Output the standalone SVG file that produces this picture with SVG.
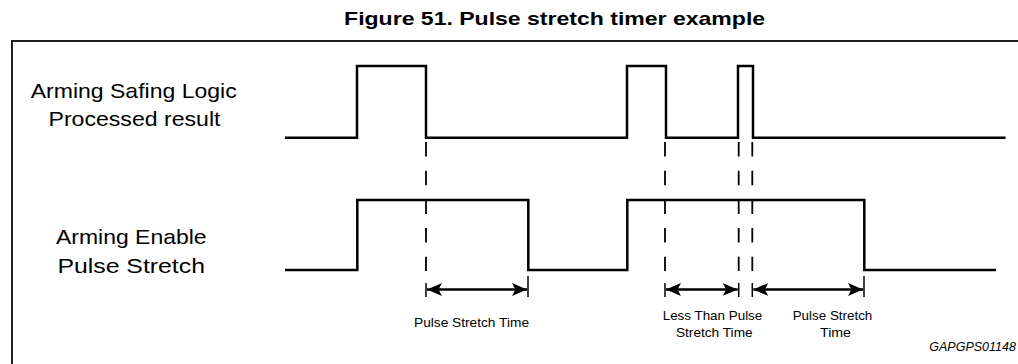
<svg xmlns="http://www.w3.org/2000/svg" width="1018" height="364" viewBox="0 0 1018 364">
<style>
.sig{fill:none;stroke:#000;stroke-width:2.5;stroke-linejoin:miter}
.frame{fill:none;stroke:#231f20;stroke-width:2}
.dash{fill:none;stroke:#000;stroke-width:1.8;stroke-dasharray:14.5 14.2}
.tick{fill:none;stroke:#000;stroke-width:1.5}
.arr{fill:none;stroke:#000;stroke-width:2.6;marker-start:url(#ah);marker-end:url(#ah)}
.lbl{font-family:"Liberation Sans",Arial,sans-serif;font-size:21px;fill:#000;text-anchor:middle}
.sm{font-family:"Liberation Sans",Arial,sans-serif;font-size:13.5px;fill:#000;text-anchor:middle}
.title{font-family:"Liberation Sans",Arial,sans-serif;font-size:19px;font-weight:bold;fill:#000;text-anchor:middle}
.ref{font-family:"Liberation Sans",Arial,sans-serif;font-size:12px;font-style:italic;fill:#000;text-anchor:middle}
</style>
<defs>
<marker id="ah" markerUnits="userSpaceOnUse" markerWidth="16" markerHeight="14" viewBox="0 -7 16 14" refX="15" refY="0" orient="auto-start-reverse">
<path d="M0,-6.5 L15,0 L0,6.5 L3.5,0 Z" fill="#000"/>
</marker>
</defs>
<rect width="1018" height="364" fill="#fff"/>
<text id="title" class="title" x="554.6" y="25" textLength="421" lengthAdjust="spacingAndGlyphs">Figure 51. Pulse stretch timer example</text>
<path class="frame" d="M12,364 V41 H1018"/>
<g id="label-safing">
<text class="lbl" x="133.7" y="98.3" textLength="206" lengthAdjust="spacingAndGlyphs">Arming Safing Logic</text>
<text class="lbl" x="134.5" y="126" textLength="172" lengthAdjust="spacingAndGlyphs">Processed result</text>
</g>
<g id="label-enable">
<text class="lbl" x="131.3" y="244.3" textLength="150.5" lengthAdjust="spacingAndGlyphs">Arming Enable</text>
<text class="lbl" x="131.2" y="272.7" textLength="147.5" lengthAdjust="spacingAndGlyphs">Pulse Stretch</text>
</g>
<g id="signal-safing">
<path class="sig" d="M285,137.7 H357 V66 H426 V137.7 H627 V66 H666 V137.7 H738 V66 H753 V137.7 H1005.5"/>
</g>
<g id="signal-enable">
<path class="sig" d="M285,270 H357.3 V200 H528.3 V270 H627.3 V200 H864.3 V270 H996"/>
</g>
<g id="connectors">
<line class="dash" x1="426" y1="142" x2="426" y2="271"/>
<line class="dash" x1="665" y1="142" x2="665" y2="271"/>
<line class="dash" x1="738.7" y1="142" x2="738.7" y2="271"/>
<line class="dash" x1="752.3" y1="142" x2="752.3" y2="271"/>
<line class="tick" x1="426" y1="283" x2="426" y2="297"/>
<line class="tick" x1="528" y1="276" x2="528" y2="297"/>
<line class="tick" x1="665" y1="283" x2="665" y2="297"/>
<line class="tick" x1="738.7" y1="283" x2="738.7" y2="297"/>
<line class="tick" x1="752.3" y1="283" x2="752.3" y2="297"/>
<line class="tick" x1="864" y1="276" x2="864" y2="297"/>
<line class="arr" x1="427" y1="289.5" x2="527" y2="289.5"/>
<line class="arr" x1="666" y1="289.5" x2="737.7" y2="289.5"/>
<line class="arr" x1="753.3" y1="289.5" x2="863" y2="289.5"/>
</g>
<g id="label-time1">
<text class="sm" x="471.5" y="326.7" textLength="115" lengthAdjust="spacingAndGlyphs">Pulse Stretch Time</text>
</g>
<g id="label-time2">
<text class="sm" x="712.5" y="320" textLength="99.6" lengthAdjust="spacingAndGlyphs">Less Than Pulse</text>
<text class="sm" x="714.3" y="337.3" textLength="76.7" lengthAdjust="spacingAndGlyphs">Stretch Time</text>
</g>
<g id="label-time3">
<text class="sm" x="832.5" y="320" textLength="79.6" lengthAdjust="spacingAndGlyphs">Pulse Stretch</text>
<text class="sm" x="835.5" y="337.3" textLength="31" lengthAdjust="spacingAndGlyphs">Time</text>
</g>
<text id="ref" class="ref" x="972.6" y="350.7" textLength="86.7" lengthAdjust="spacingAndGlyphs">GAPGPS01148</text>
</svg>
